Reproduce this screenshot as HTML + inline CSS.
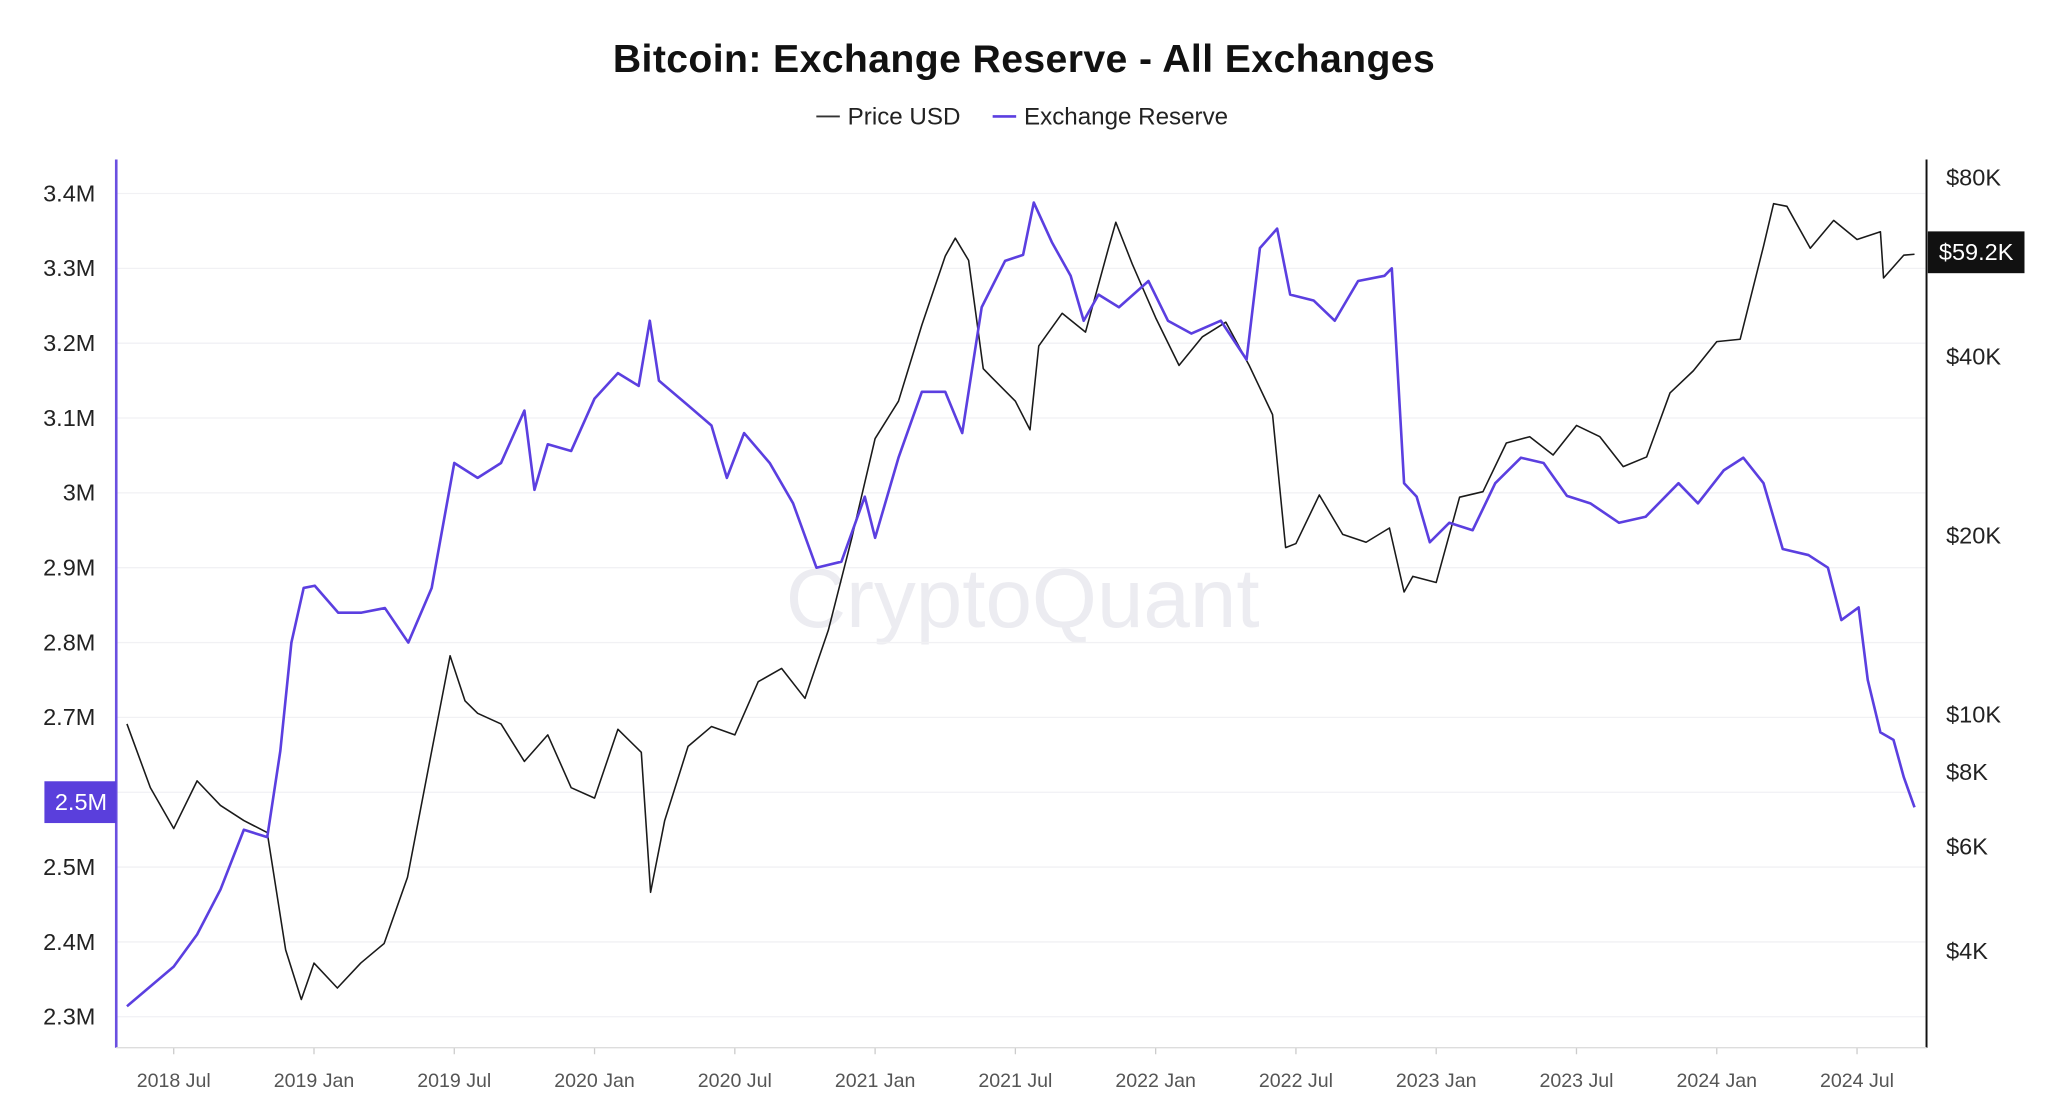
<!DOCTYPE html>
<html><head><meta charset="utf-8">
<style>
html,body{margin:0;padding:0;background:#fff;}
svg{display:block;font-family:"Liberation Sans",sans-serif;}
</style></head>
<body>
<svg id="chart" width="2048" height="1108" viewBox="0 0 1568 848" xmlns="http://www.w3.org/2000/svg">
  <text x="784" y="55" text-anchor="middle" font-size="30" font-weight="bold" letter-spacing="0.3" fill="#111">Bitcoin: Exchange Reserve - All Exchanges</text>
  <g>
    <g>
      <line x1="625" y1="89" x2="643" y2="89" stroke="#333" stroke-width="1.5"/>
      <text x="649" y="95" font-size="18.5" fill="#222">Price USD</text>
    </g>
    <g>
      <line x1="760" y1="89" x2="778" y2="89" stroke="#5b3fe0" stroke-width="2"/>
      <text x="784" y="95" font-size="18.5" fill="#222">Exchange Reserve</text>
    </g>
  </g>
  <text x="783" y="480" text-anchor="middle" font-size="64" fill="#ececf1">CryptoQuant</text>
  <g id="grid"></g>
  <g id="series"></g>
  <g id="axes"></g>
</svg>
<script>
const priceDates = ["2018-05-01","2018-06-01","2018-07-01","2018-08-01","2018-09-01","2018-10-01","2018-11-01","2018-11-25","2018-12-15","2019-01-01","2019-02-01","2019-03-01","2019-04-01","2019-05-01","2019-06-01","2019-06-26","2019-07-15","2019-08-01","2019-09-01","2019-10-01","2019-11-01","2019-12-01","2020-01-01","2020-02-01","2020-03-01","2020-03-13","2020-04-01","2020-05-01","2020-06-01","2020-07-01","2020-08-01","2020-09-01","2020-10-01","2020-11-01","2020-12-01","2021-01-01","2021-02-01","2021-03-01","2021-04-01","2021-04-14","2021-05-01","2021-05-20","2021-06-01","2021-07-01","2021-07-20","2021-08-01","2021-09-01","2021-10-01","2021-11-01","2021-11-10","2021-12-01","2022-01-01","2022-02-01","2022-03-01","2022-04-01","2022-05-01","2022-06-01","2022-06-18","2022-07-01","2022-08-01","2022-09-01","2022-10-01","2022-11-01","2022-11-20","2022-12-01","2023-01-01","2023-02-01","2023-03-01","2023-04-01","2023-05-01","2023-06-01","2023-07-01","2023-08-01","2023-09-01","2023-10-01","2023-11-01","2023-12-01","2024-01-01","2024-02-01","2024-03-01","2024-03-14","2024-04-01","2024-05-01","2024-06-01","2024-07-01","2024-08-01","2024-08-05","2024-09-01","2024-09-15"];
const priceValues = [9600,7500,6400,7700,7000,6600,6300,4000,3300,3800,3450,3800,4100,5300,8500,12500,10500,10000,9600,8300,9200,7500,7200,9400,8600,5000,6600,8800,9500,9200,11300,11900,10600,13800,19700,29000,33500,45000,58800,63000,57800,38000,36700,33500,30000,41500,47100,43800,61000,67000,57000,46300,38500,43000,45500,38500,31800,19000,19300,23300,20000,19400,20500,16000,17000,16600,23100,23600,28500,29200,27200,30500,29200,26000,27000,34600,37700,42200,42600,61100,72000,71300,60600,67500,62700,64600,54000,59000,59200];

const reserveDates = ["2018-05-01","2018-07-01","2018-08-01","2018-09-01","2018-10-01","2018-11-01","2018-11-18","2018-12-02","2018-12-18","2019-01-02","2019-02-02","2019-03-02","2019-04-02","2019-05-02","2019-06-02","2019-07-01","2019-08-01","2019-09-01","2019-10-01","2019-10-14","2019-11-01","2019-12-01","2020-01-01","2020-02-01","2020-02-28","2020-03-12","2020-03-24","2020-05-01","2020-06-01","2020-06-21","2020-07-13","2020-08-16","2020-09-16","2020-10-16","2020-11-18","2020-12-18","2021-01-01","2021-02-01","2021-03-01","2021-04-01","2021-04-23","2021-05-18","2021-06-18","2021-07-11","2021-07-25","2021-08-18","2021-09-12","2021-09-29","2021-10-18","2021-11-14","2021-12-22","2022-01-17","2022-02-17","2022-03-25","2022-04-28","2022-05-15","2022-06-07","2022-06-24","2022-07-24","2022-08-21","2022-09-21","2022-10-25","2022-11-04","2022-11-08","2022-11-20","2022-12-06","2022-12-23","2023-01-18","2023-02-18","2023-03-17","2023-04-20","2023-05-19","2023-06-19","2023-07-19","2023-08-26","2023-09-30","2023-11-12","2023-12-07","2024-01-10","2024-02-05","2024-03-01","2024-03-26","2024-04-29","2024-05-24","2024-06-11","2024-07-03","2024-07-15","2024-08-01","2024-08-18","2024-09-01","2024-09-15"];
const reserveValues = [2.314,2.367,2.41,2.47,2.55,2.54,2.655,2.80,2.873,2.876,2.84,2.84,2.846,2.80,2.873,3.04,3.02,3.04,3.11,3.004,3.065,3.056,3.126,3.16,3.143,3.23,3.15,3.117,3.09,3.02,3.08,3.04,2.986,2.90,2.908,2.995,2.94,3.047,3.135,3.135,3.08,3.248,3.31,3.318,3.388,3.335,3.29,3.23,3.265,3.248,3.283,3.23,3.213,3.23,3.178,3.327,3.353,3.265,3.257,3.23,3.283,3.29,3.30,3.23,3.013,2.995,2.934,2.96,2.95,3.013,3.047,3.04,2.996,2.986,2.96,2.968,3.013,2.986,3.03,3.047,3.013,2.925,2.917,2.90,2.83,2.847,2.75,2.68,2.67,2.62,2.58];

const leftTicks = [2.3,2.4,2.5,2.6,2.7,2.8,2.9,3.0,3.1,3.2,3.3,3.4];
const leftTickLabels = ["2.3M","2.4M","2.5M","","2.7M","2.8M","2.9M","3M","3.1M","3.2M","3.3M","3.4M"];
const rightTicks = [4000,6000,8000,10000,20000,40000,80000];
const rightTickLabels = ["$4K","$6K","$8K","$10K","$20K","$40K","$80K"];
const xTickDates = ["2018-07-01","2019-01-01","2019-07-01","2020-01-01","2020-07-01","2021-01-01","2021-07-01","2022-01-01","2022-07-01","2023-01-01","2023-07-01","2024-01-01","2024-07-01"];
const xTickLabels = ["2018 Jul","2019 Jan","2019 Jul","2020 Jan","2020 Jul","2021 Jan","2021 Jul","2022 Jan","2022 Jul","2023 Jan","2023 Jul","2024 Jan","2024 Jul"];
const lastReserveLabel = "2.5M";
const lastPriceLabel = "$59.2K";

const NS = "http://www.w3.org/2000/svg";
function monthsOf(d){const p=d.split("-").map(Number);return (p[0]-2018)*12+(p[1]-7)+(p[2]-1)/30.4;}
function xScale(d){return 133+monthsOf(d)*17.9;}
function yLeft(v){return 148+(3.4-v)*573;}
function yRight(p){return 546-137*Math.log2(p/10000);}
function mk(tag,attrs,parent){const e=document.createElementNS(NS,tag);for(const k in attrs)e.setAttribute(k,attrs[k]);parent.appendChild(e);return e;}

const grid=document.getElementById("grid"), series=document.getElementById("series"), axes=document.getElementById("axes");

leftTicks.forEach((v,i)=>{
  const y=yLeft(v);
  const gl=mk("line",{x1:90,x2:1474,y1:y,y2:y,stroke:"#f1f1f4","stroke-width":1},grid);
  
  
  if(leftTickLabels[i]){
    const t=mk("text",{x:73,y:y+6,"text-anchor":"end","font-size":18,fill:"#222"},axes);
    t.textContent=leftTickLabels[i];
    
    
  }
});
rightTicks.forEach((v,i)=>{
  const t=mk("text",{x:1490,y:yRight(v)+7,"font-size":18,fill:"#222"},axes);
  t.textContent=rightTickLabels[i];
  
  
});
xTickDates.forEach((d,i)=>{
  const x=xScale(d);
  const tk=mk("line",{x1:x,x2:x,y1:802,y2:807,stroke:"#ccc"},axes);
  
  
  const t=mk("text",{x:x,y:832,"text-anchor":"middle","font-size":15,fill:"#555"},axes);
  t.textContent=xTickLabels[i];
  
  
});

const pp=priceDates.map((d,i)=>xScale(d).toFixed(1)+","+yRight(priceValues[i]).toFixed(1)).join(" ");
const priceLine=mk("polyline",{points:pp,fill:"none",stroke:"#1a1a1a","stroke-width":1.2,"stroke-linejoin":"round"},series);


const rp=reserveDates.map((d,i)=>xScale(d).toFixed(1)+","+yLeft(reserveValues[i]).toFixed(1)).join(" ");
const resLine=mk("polyline",{points:rp,fill:"none",stroke:"#5b3fe0","stroke-width":2,"stroke-linejoin":"round"},series);



const la=mk("line",{x1:89,x2:89,y1:122,y2:802,stroke:"#6a4fe0","stroke-width":2},axes);


const ra=mk("line",{x1:1475,x2:1475,y1:122,y2:802,stroke:"#111","stroke-width":1.5},axes);


const ba=mk("line",{x1:89,x2:1475,y1:802,y2:802,stroke:"#ddd","stroke-width":1},axes);



const lb=mk("rect",{x:34,y:598,width:55,height:32,fill:"#5a3fdc"},axes);


const lt=mk("text",{x:62,y:620,"text-anchor":"middle","font-size":18,fill:"#fff"},axes);
lt.textContent=lastReserveLabel;


const rb=mk("rect",{x:1476,y:177,width:74,height:32,fill:"#111"},axes);


const rt=mk("text",{x:1513,y:199,"text-anchor":"middle","font-size":18,fill:"#fff"},axes);
rt.textContent=lastPriceLabel;


</script>
</body></html>
